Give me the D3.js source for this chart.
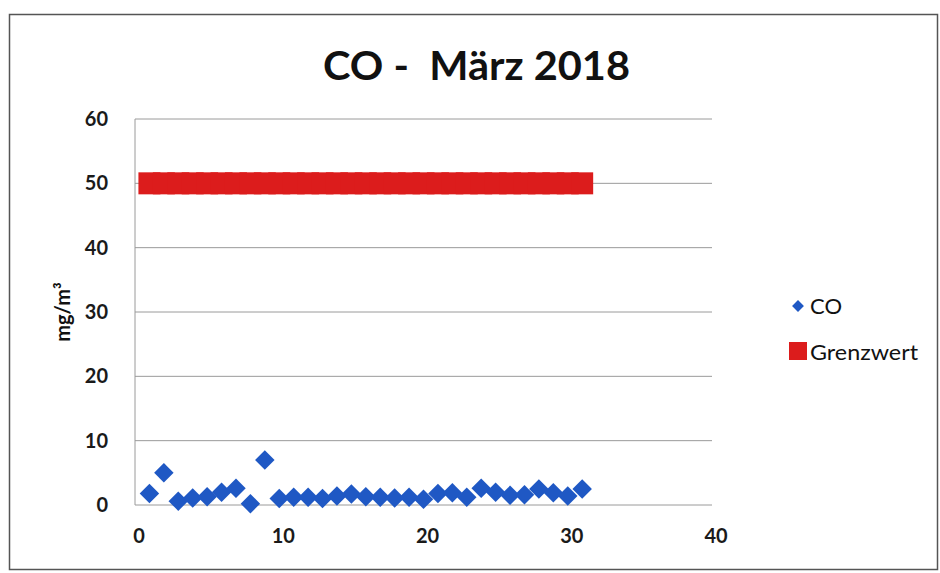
<!DOCTYPE html>
<html>
<head>
<meta charset="utf-8">
<script src="https://cdn.jsdelivr.net/npm/d3@7"></script>
<style>
  body { margin: 0; background: #fff; }
  svg { display: block; font-family: Lato, "Open Sans", sans-serif; }
</style>
</head>
<body>
<div id="chart"></div>
<script>
// Daily CO values, March 2018
const days = d3.range(1, 32);
const coValues = [1.8, 5.0, 0.6, 1.1, 1.3, 2.0, 2.6, 0.2, 7.0, 1.0,
                  1.2, 1.2, 1.0, 1.4, 1.7, 1.3, 1.2, 1.1, 1.2, 0.9,
                  1.8, 1.9, 1.2, 2.6, 2.0, 1.5, 1.6, 2.5, 1.9, 1.4, 2.5];
const limitValues = days.map(() => 50);
const xTicks = [0, 10, 20, 30, 40];
const yTicks = [0, 10, 20, 30, 40, 50, 60];
const seriesNames = ["CO", "Grenzwert"];

const width = 940, height = 573;
const blue = "#1f58c4", red = "#dc1c1c";

const svg = d3.select("#chart")
  .append("svg")
  .attr("width", width)
  .attr("height", height);

// chart border
svg.append("rect")
  .attr("x", 9.5).attr("y", 14.5)
  .attr("width", 928).attr("height", 555)
  .attr("fill", "#fff")
  .attr("stroke", "#555")
  .attr("stroke-width", 1.5);

const x = d3.scaleLinear().domain([0, 40]).range([135, 712]);
const y = d3.scaleLinear().domain([0, 60]).range([505, 119]);

// gridlines
svg.append("g")
  .selectAll("line")
  .data(yTicks)
  .join("line")
  .attr("x1", x(0)).attr("x2", x(40))
  .attr("y1", d => y(d)).attr("y2", d => y(d))
  .attr("stroke", "#9a9a9a")
  .attr("stroke-width", 1);

// left axis line
svg.append("line")
  .attr("x1", x(0)).attr("x2", x(0))
  .attr("y1", y(60)).attr("y2", y(0))
  .attr("stroke", "#9a9a9a");

// y tick labels
svg.append("g")
  .selectAll("text")
  .data(yTicks)
  .join("text")
  .attr("x", 108)
  .attr("y", d => y(d) + 7)
  .attr("text-anchor", "end")
  .attr("font-size", 20)
  .attr("font-weight", "bold")
  .attr("fill", "#1a1a1a")
  .text(d => d);

// x tick labels
svg.append("g")
  .selectAll("text")
  .data(xTicks)
  .join("text")
  .attr("x", d => x(d) + 4)
  .attr("y", 543)
  .attr("text-anchor", "middle")
  .attr("font-size", 20)
  .attr("font-weight", "bold")
  .attr("fill", "#1a1a1a")
  .text(d => d);

// y axis title
svg.append("text")
  .attr("transform", "translate(70,312) rotate(-90)")
  .attr("text-anchor", "middle")
  .attr("font-size", 20)
  .attr("font-weight", "bold")
  .attr("fill", "#111")
  .text("mg/m³");

// title
svg.append("text")
  .attr("x", 323)
  .attr("y", 80)
  .attr("font-size", 40)
  .attr("font-weight", "bold")
  .attr("fill", "#111")
  .attr("textLength", 307)
  .attr("lengthAdjust", "spacingAndGlyphs")
  .attr("xml:space", "preserve")
  .text("CO -  März 2018");

// Grenzwert: big square markers that merge into a band
const sq = 22;
svg.append("g")
  .selectAll("rect")
  .data(days)
  .join("rect")
  .attr("x", (d) => x(d) - sq / 2)
  .attr("y", (d, i) => y(limitValues[i]) - sq / 2)
  .attr("width", sq).attr("height", sq)
  .attr("fill", red);

// CO diamonds
const diamond = d3.symbol().type(d3.symbolSquare).size(190);
svg.append("g")
  .selectAll("path")
  .data(days)
  .join("path")
  .attr("d", diamond)
  .attr("transform", (d, i) => `translate(${x(d)},${y(coValues[i])}) rotate(45)`)
  .attr("fill", blue);

// legend
const legend = svg.append("g");
legend.append("path")
  .attr("d", d3.symbol().type(d3.symbolSquare).size(70))
  .attr("transform", "translate(798,306) rotate(45)")
  .attr("fill", blue);
legend.append("rect")
  .attr("x", 789).attr("y", 342)
  .attr("width", 18).attr("height", 18)
  .attr("fill", red);
legend.selectAll("text")
  .data(seriesNames)
  .join("text")
  .attr("x", 810)
  .attr("y", (d, i) => 314 + i * 46)
  .attr("font-size", 21)
  .attr("fill", "#111")
  .attr("textLength", (d, i) => [32, 108][i])
  .attr("lengthAdjust", "spacingAndGlyphs")
  .text(d => d);
</script>
</body>
</html>
